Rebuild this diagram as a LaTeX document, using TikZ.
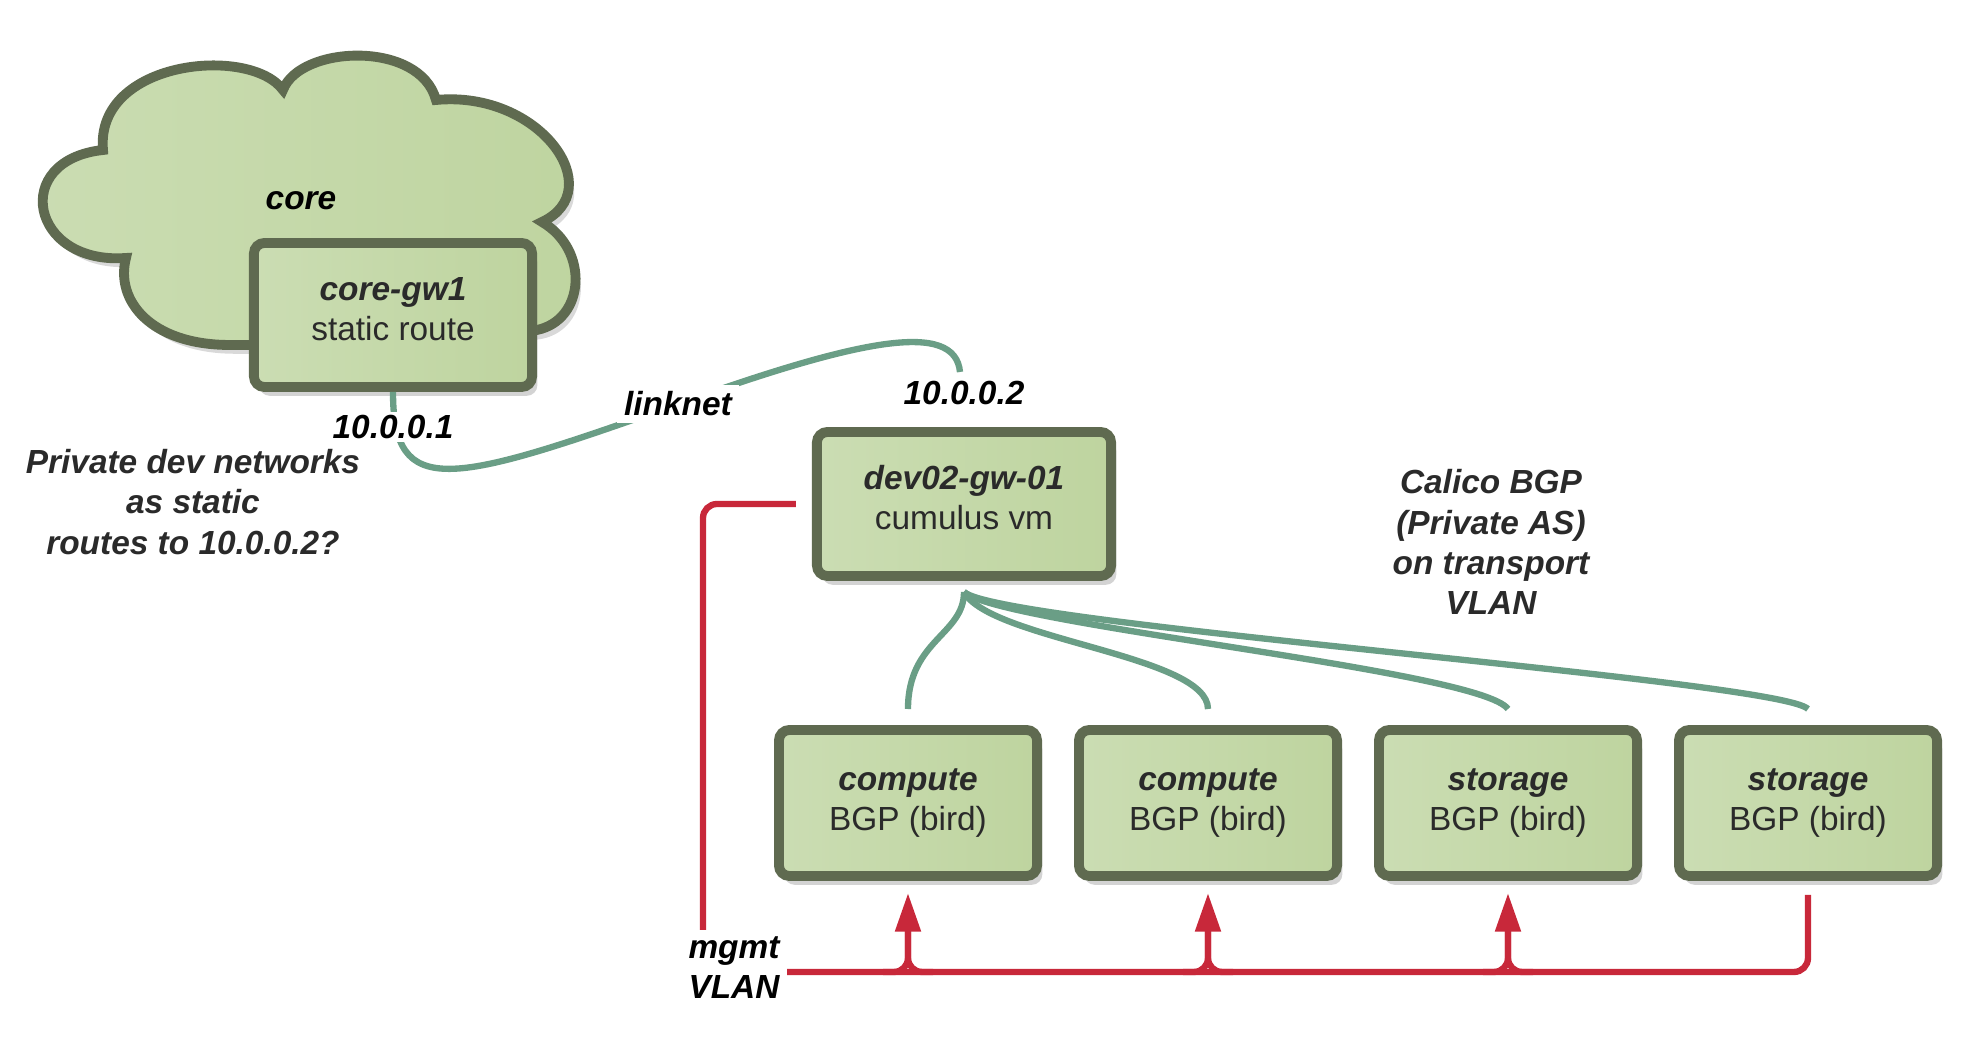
\documentclass[tikz,border=0pt]{standalone}
\usepackage{fontspec}
\setmainfont{Liberation Sans}
\usetikzlibrary{arrows.meta,shadows}
\definecolor{boxline}{HTML}{5F6A50}
\definecolor{boxfillA}{HTML}{CBDDB3}
\definecolor{boxfillB}{HTML}{BED49F}
\definecolor{linkgreen}{HTML}{6A9E86}
\definecolor{mgmtred}{HTML}{C8283A}
\definecolor{txtgray}{HTML}{2A2A2A}
\begin{document}
\begin{tikzpicture}[x=0.01cm,y=0.01cm,font=\fontsize{9.5}{11.4}\selectfont,
   box/.style={draw=boxline,line width=2.8pt,rounded corners=3pt,left color=boxfillA,right color=boxfillB,
      minimum height=1.44cm,align=center,text=txtgray,
      drop shadow={shadow xshift=1.5pt,shadow yshift=-2.5pt,opacity=.35}},
   lbl/.style={font=\fontsize{9.5}{11.4}\selectfont\bfseries\itshape,align=center},
   link/.style={draw=linkgreen,line width=1.8pt},
   mgmt/.style={draw=mgmtred,line width=1.8pt,rounded corners=4pt}]
   \useasboundingbox (0,0) rectangle (1968,1040);
   \path[draw=boxline,line width=2.8pt,left color=boxfillA,right color=boxfillB,
      drop shadow={shadow xshift=1.5pt,shadow yshift=-2.5pt,opacity=.3}]
      (126,782) .. controls (30,775) and (10,880) .. (103,890)
      .. controls (95,980) and (250,995) .. (283,950)
      .. controls (300,995) and (420,1000) .. (436,940)
      .. controls (540,950) and (610,850) .. (542,818)
      .. controls (590,790) and (585,720) .. (537,710)
      .. controls (420,690) and (300,695) .. (230,695)
      .. controls (150,695) and (115,740) .. (126,782) -- cycle;
   \node[lbl] (corelbl) at (301,839) {core};
   \node[box,minimum width=2.78cm,text depth=3.5pt] (coregw) at (393,725) {{\bfseries\itshape core-gw1}\\static route};
   \node[box,minimum width=2.94cm,text depth=3.5pt] (devgw) at (964,536) {{\bfseries\itshape dev02-gw-01}\\cumulus vm};
   \foreach \x/\name/\role in {908/cmp1/compute,1208/cmp2/compute,1508/stor1/storage,1808/stor2/storage}
      \node[box,minimum width=2.58cm,minimum height=1.46cm] (\name) at (\x,237) {{\bfseries\itshape \role}\\BGP (bird)};
   \coordinate (lnkpt) at (678,636);
   \coordinate (ip2end) at (960,668);
   \coordinate (hub) at (964,448);
   \draw[link] (coregw.south) .. controls (393,540) and (450,555) .. (lnkpt) .. controls (860,701) and (955,720) .. (ip2end);
   \draw[link] (hub) .. controls (964,405) and (908,400) .. ([yshift=0.16cm]cmp1.north);
   \draw[link] (hub) .. controls (990,400) and (1208,385) .. ([yshift=0.16cm]cmp2.north);
   \draw[link] (hub) .. controls (1000,415) and (1480,370) .. ([yshift=0.16cm]stor1.north);
   \draw[link] (hub) .. controls (1000,415) and (1780,360) .. ([yshift=0.16cm]stor2.north);
   \draw[mgmt] ([xshift=-0.16cm]devgw.west) -| (703,68) -| ([yshift=-0.14cm]stor2.south);
   \foreach \name/\x in {cmp1/908,cmp2/1208,stor1/1508}{
      \draw[mgmt,-{Triangle[length=11pt,width=7pt]}] (\x-25,68) -| ([yshift=-0.12cm]\name.south);
      \draw[mgmt] (\x+25,68) -| (\x,110);
   }
   \node[lbl,fill=white,inner sep=1pt] (ip1) at (393,613) {10.0.0.1};
   \node[lbl,fill=white,inner sep=2pt] (lnk) at (lnkpt) {linknet};
   \node[lbl] (ip2) at (964,647) {10.0.0.2};
   \node[lbl,text=txtgray] (note) at (193,538) {Private dev networks\\as static\\routes to 10.0.0.2?};
   \node[lbl,text=txtgray] (calico) at (1491,498) {Calico BGP\\(Private AS)\\on transport\\VLAN};
   \node[lbl,fill=white,inner sep=2pt] (mgmtlbl) at (734,72) {mgmt\\VLAN};
\end{tikzpicture}
\end{document}
